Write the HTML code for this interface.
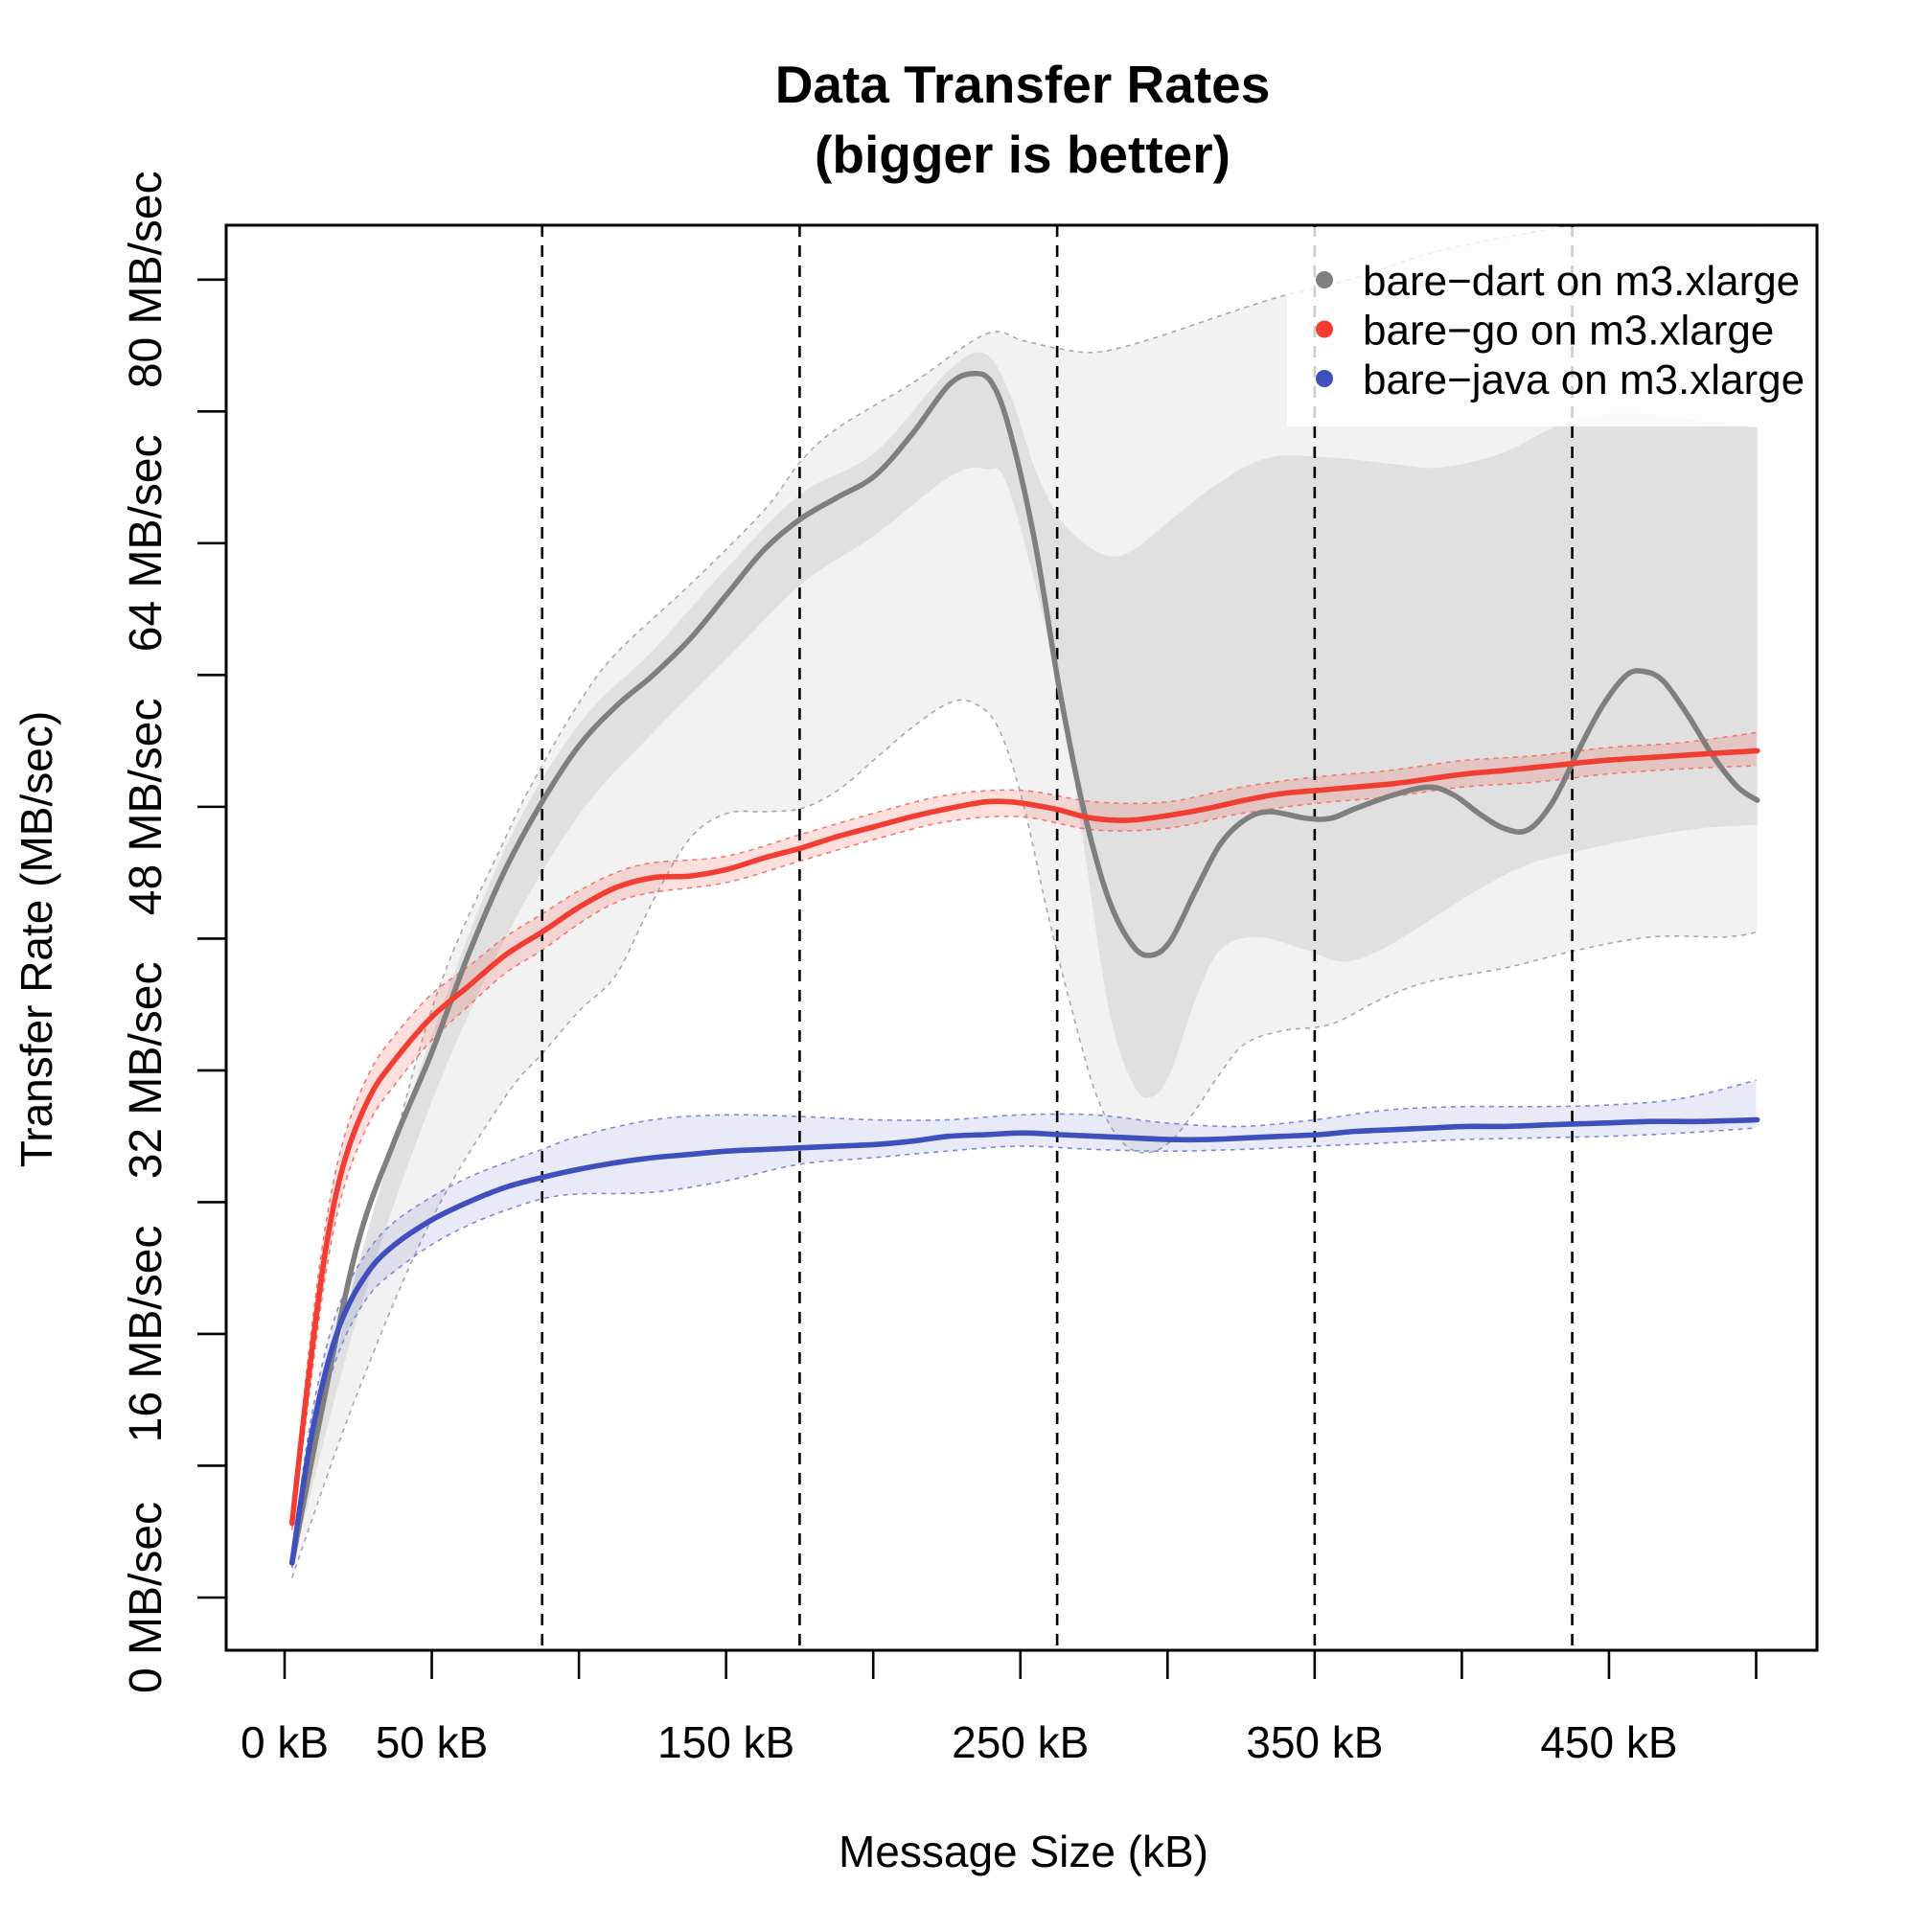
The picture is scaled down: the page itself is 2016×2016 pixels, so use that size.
<!DOCTYPE html>
<html><head><meta charset="utf-8"><style>
html,body{margin:0;padding:0;background:#fff}
svg{display:block}
text{font-family:"Liberation Sans",Arial,sans-serif;fill:#000}
</style></head><body>
<svg id="chart" width="2016" height="2016" viewBox="0 0 2016 2016" xmlns="http://www.w3.org/2000/svg">
<defs><clipPath id="plotclip"><rect x="236" y="235" width="1660" height="1487"/></clipPath></defs>
<text x="1067" y="107" font-size="55" font-weight="bold" text-anchor="middle">Data Transfer Rates</text>
<text x="1067" y="180" font-size="55" font-weight="bold" text-anchor="middle">(bigger is better)</text>
<g id="plot" clip-path="url(#plotclip)"></g>
<rect x="236" y="235" width="1660" height="1487" fill="none" stroke="#000" stroke-width="3"/>
<g id="axes"></g>
<text x="1068" y="1948" font-size="46" text-anchor="middle">Message Size (kB)</text>
<text transform="translate(54,980) rotate(-90)" font-size="46" text-anchor="middle">Transfer Rate (MB/sec)</text>
<g id="legend"></g>
</svg>
<script>
const xTicks = [0,50,100,150,200,250,300,350,400,450,500];
const xTickLabels = ["0 kB","50 kB","","150 kB","","250 kB","","350 kB","","450 kB",""];
const yTicks = [0,8,16,24,32,40,48,56,64,72,80];
const yTickLabels = ["0 MB/sec","","16 MB/sec","","32 MB/sec","","48 MB/sec","","64 MB/sec","","80 MB/sec"];
const vLines = [87.5,175,262.5,350,437.5];

const dartKb = [2.5,12.1,24.7,37.3,49.8,62.4,75,87.5,100,112.6,125.2,137.8,150.3,162.9,175.5,188,200.6,213.1,225.7,234.1,240.4,246.6,255,263.4,271.8,280.2,288.5,294.8,301.1,309.5,317.8,326.2,334.6,347.2,355.5,363.9,376.5,389,397.4,405.8,414.2,422.5,430.9,439.3,447.7,456,462.3,468.6,477,485.3,493.7,500.4];
const dartVal = [2.1,10.9,21.4,27.7,33.0,39.0,44.2,48.3,51.7,54.1,56.0,58.2,60.9,63.6,65.5,66.8,68.1,70.6,73.6,74.3,73.7,70.7,64.0,55.0,47.6,42.3,39.5,39.0,39.9,42.9,45.7,47.2,47.7,47.3,47.3,47.9,48.7,49.2,48.7,47.6,46.7,46.6,48.3,51.3,54.1,56.0,56.2,55.6,53.5,51.1,49.2,48.4];
const dartOuterHiKb = [2.5,24.7,49.8,75,87.5,100,112.6,137.8,162.9,175.5,188,213.1,238.3,250.8,263.4,276,292.7,317.8,338.8,363.9,389,418.3,447.7,472.8,500.4];
const dartOuterHi = [2.1,18.4,35.6,46.1,50.5,54.3,57.3,61.5,66.0,69.0,71.0,73.7,76.7,76.3,75.8,75.6,76.3,77.8,79.0,80.1,81.6,82.7,83.6,84.2,84.6];
const dartOuterLoKb = [2.5,24.7,49.8,75,87.5,100,112.6,125.2,137.8,150.3,162.9,175.5,188,200.6,213.1,225.7,234.1,242.5,250.8,259.2,267.6,276,284.3,292.7,301.1,309.5,317.8,326.2,338.8,355.5,372.3,389,414.2,439.3,464.4,489.5,500.4];
const dartOuterLo = [1.2,12.4,22.9,30.4,33.0,35.6,37.8,42.3,46.1,47.6,47.7,47.9,49.0,50.9,52.8,54.3,54.3,52.8,48.3,41.6,35.6,30.4,27.7,27.0,27.7,29.6,31.8,33.6,34.4,34.8,36.3,37.4,38.2,39.3,40.1,40.1,40.4];
const dartInnerHiKb = [2.5,24.7,49.8,75,100,125.2,150.3,175.5,200.6,225.7,238,246.6,255,263.4,271.8,280.2,288.5,301,317.8,334.6,355.5,376.5,393.2,414.2,430.9,447.7,464.4,481.2,500.4];
const dartInnerHi = [2.1,20,34,45.5,53,57.5,62.5,67,69.5,74.5,75.5,73,68.5,65.5,64.0,63.2,63.6,65.4,67.7,69.2,69.2,68.8,68.6,69.5,71.0,71.8,71.8,71.4,71.0];
const dartInnerLoKb = [2.5,24.7,49.8,75,100,125.2,150.3,175.5,200.6,225.7,238,246.6,263.4,271.8,280.2,288.5,294.8,301.1,309.5,317.8,330.4,347.2,359.7,372.3,389,405.8,422.5,439.3,460.2,481.2,500.4];
const dartInnerLo = [1.8,17,30,40,47.5,52.5,57,61.5,64.5,68,68.5,67.0,55.0,45.3,35.6,31.1,30.4,31.9,36.3,39.3,40.1,39.3,38.6,39.3,41.1,43.0,44.5,45.3,46.1,46.7,46.9];

const goKb = [2.5,8.0,14.2,20.5,28.9,37.3,49.8,62.4,75,87.5,100,112.6,125.2,137.8,150.3,162.9,175.5,188,200.6,213.1,225.7,238.3,246.6,255,263.4,271.8,280.2,288.5,301.1,313.6,326.2,338.8,351.3,363.9,376.5,389,401.6,414.2,430.9,447.7,464.4,481.2,500.4];
const goVal = [4.5,13.2,21.4,26.6,30.4,32.6,35.2,37.1,39.0,40.4,41.9,43.1,43.7,43.8,44.2,44.9,45.5,46.2,46.8,47.4,47.9,48.3,48.3,48.1,47.8,47.4,47.2,47.2,47.5,47.9,48.4,48.8,49.0,49.2,49.4,49.7,50.0,50.2,50.5,50.8,51.0,51.2,51.4];
const goBandKb = [2.5,8,14.2,20.5,28.9,37.3,49.8,62.4,75,87.5,100,112.6,125,150,175,200,225,250,275,300,325,350,375,400,425,450,475,500];
const goHi = [4.9,14.6,22.9,28.1,31.9,34.1,36.6,38.3,40.1,41.5,42.9,44.0,44.6,45.0,46.3,47.6,48.7,49.0,48.3,48.3,49.2,49.8,50.2,50.8,51.1,51.6,51.9,52.5];
const goLo = [4.1,11.8,19.9,25.1,28.9,31.1,33.8,35.9,37.9,39.3,40.9,42.2,42.8,43.4,44.7,46.0,47.1,47.4,46.6,46.7,47.6,48.2,48.6,49.2,49.5,50.0,50.3,50.5];

const javaKb = [2.5,8.0,14.2,20.5,28.9,37.3,49.8,62.4,75,87.5,100,112.6,125.2,137.8,150.3,162.9,175.5,188,200.6,213.1,225.7,238.3,250.8,263.4,276,288.5,301.1,313.6,326.2,338.8,351.3,363.9,376.5,389,401.6,414.2,430.9,447.7,464.4,481.2,500.4];
const javaVal = [2.1,8.7,13.9,17.3,19.9,21.4,22.9,24.0,24.9,25.5,26.0,26.4,26.7,26.9,27.1,27.2,27.3,27.4,27.5,27.7,28.0,28.1,28.2,28.1,28.0,27.9,27.8,27.8,27.9,28.0,28.1,28.3,28.4,28.5,28.6,28.6,28.7,28.8,28.9,28.9,29.0];
const javaBandKb = [2.5,8,14.2,20.5,28.9,37.3,49.8,62.4,75,87.5,100,125,150,175,200,225,250,275,300,325,350,375,400,425,450,475,500];
const javaHi = [2.5,9.8,15.2,18.6,21.2,22.8,24.3,25.5,26.4,27.2,28.0,29.0,29.3,29.2,29.0,29.0,29.3,29.3,28.8,28.6,29.0,29.6,29.8,29.8,29.9,30.3,31.4];
const javaLo = [1.8,7.5,12.5,15.8,18.4,19.8,21.4,22.6,23.5,24.2,24.5,24.6,25.3,26.3,26.7,27.1,27.4,27.2,27.1,27.2,27.4,27.6,27.8,27.9,28.0,28.2,28.5];

const legendLabels = ["bare\u2212dart on m3.xlarge","bare\u2212go on m3.xlarge","bare\u2212java on m3.xlarge"];

const NS = "http://www.w3.org/2000/svg";
const X = kb => 297 + kb * 3.071;
const Y = v => 1667 - v * 17.19;
function mk(tag, attrs, parent){ const e=document.createElementNS(NS,tag); for(const k in attrs) e.setAttribute(k,attrs[k]); parent.appendChild(e); return e; }
function pts(xs, ys){ return xs.map((x,i)=>[X(x),Y(ys[i])]); }
function smooth(p, move){
  let d = (move?"M":"L")+p[0][0].toFixed(1)+","+p[0][1].toFixed(1);
  for(let i=0;i<p.length-1;i++){
    const p0=p[Math.max(i-1,0)],p1=p[i],p2=p[i+1],p3=p[Math.min(i+2,p.length-1)];
    const c1=[p1[0]+(p2[0]-p0[0])/6,p1[1]+(p2[1]-p0[1])/6];
    const c2=[p2[0]-(p3[0]-p1[0])/6,p2[1]-(p3[1]-p1[1])/6];
    d+="C"+c1[0].toFixed(1)+","+c1[1].toFixed(1)+" "+c2[0].toFixed(1)+","+c2[1].toFixed(1)+" "+p2[0].toFixed(1)+","+p2[1].toFixed(1);
  }
  return d;
}
const plot = document.getElementById("plot");
function band(hk,hv,lk,lv,fill,stroke,name){
  const hp=pts(hk,hv), lp=pts(lk,lv).reverse();
  const p=mk("path",{d:smooth(hp,true)+smooth(lp,false)+"Z",fill:fill,stroke:"none"},plot);
  
  
  if(stroke){
    const a=mk("path",{d:smooth(hp,true),fill:"none",stroke:stroke,"stroke-width":1.6,"stroke-dasharray":"5 5"},plot);
    
    
    const b=mk("path",{d:smooth(pts(lk,lv),true),fill:"none",stroke:stroke,"stroke-width":1.6,"stroke-dasharray":"5 5"},plot);
    
    
  }
}
band(dartOuterHiKb,dartOuterHi,dartOuterLoKb,dartOuterLo,"#f2f2f2","#a8a8a8","dart-outer-band");
band(dartInnerHiKb,dartInnerHi,dartInnerLoKb,dartInnerLo,"#e0e0e0",null,"dart-inner-band");
band(goBandKb,goHi,goBandKb,goLo,"rgba(240,60,50,0.16)","#f07a72","go-band");
band(javaBandKb,javaHi,javaBandKb,javaLo,"rgba(70,80,200,0.12)","#8088d8","java-band");

vLines.forEach((v,i)=>{
  const l=mk("line",{x1:X(v),x2:X(v),y1:235,y2:1722,stroke:"#000","stroke-width":2.6,"stroke-dasharray":"12 9"},plot);
  
  
});
function line(k,v,color,name){
  const p=mk("path",{d:smooth(pts(k,v),true),fill:"none",stroke:color,"stroke-width":5.6,"stroke-linejoin":"round","stroke-linecap":"round"},plot);
  
  
}
line(dartKb,dartVal,"#7f7f7f","dart-line");
line(goKb,goVal,"#f23d33","go-line");
line(javaKb,javaVal,"#3f4fbd","java-line");

const axes=document.getElementById("axes");
xTicks.forEach((t,i)=>{
  const l=mk("line",{x1:X(t),x2:X(t),y1:1722,y2:1752,stroke:"#000","stroke-width":2.6},axes);
  
  
  if(xTickLabels[i]){
    const tx=mk("text",{x:X(t),y:1834,"font-size":46,"text-anchor":"middle"},axes);
    tx.textContent=xTickLabels[i];
    
    
  }
});
yTicks.forEach((t,i)=>{
  const l=mk("line",{x1:206,x2:236,y1:Y(t),y2:Y(t),stroke:"#000","stroke-width":2.6},axes);
  
  
  if(yTickLabels[i]){
    const tx=mk("text",{transform:"translate(168,"+Y(t)+") rotate(-90)","font-size":48,"text-anchor":"middle"},axes);
    tx.textContent=yTickLabels[i];
    
    
  }
});

const lg=document.getElementById("legend");
const bg=mk("rect",{x:1343,y:237,width:551,height:208,fill:"#fff","fill-opacity":0.8},lg);


const lcolors=["#7f7f7f","#f23d33","#3f4fbd"];
legendLabels.forEach((s,i)=>{
  const y=292+i*51.5;
  const c=mk("circle",{cx:1382,cy:y,r:9,fill:lcolors[i]},lg);
  
  
  const tx=mk("text",{x:1422,y:y+16,"font-size":44},lg);
  tx.textContent=s;
  
  
});
</script>
</body></html>
